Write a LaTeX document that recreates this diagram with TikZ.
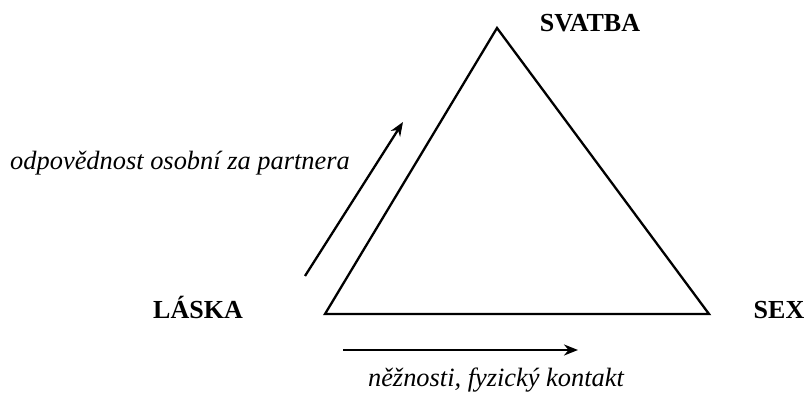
\documentclass[tikz,border=0pt]{standalone}
\usepackage{fontspec}
\setmainfont{Liberation Serif}
\usepackage{tikz}
\usetikzlibrary{arrows.meta}

\begin{document}
\begin{tikzpicture}[x=0.5pt,y=-0.5pt,
		vertexlabel/.style={font=\fontsize{13}{15}\selectfont\bfseries, anchor=base, inner sep=0pt},
		sidelabel/.style={font=\fontsize{13.2}{15}\selectfont\itshape, anchor=base, inner sep=0pt},
		side/.style={line width=1.15pt},
		flow/.style={line width=1.15pt, -{Stealth[length=7pt,width=5.5pt]}}
		]
		\useasboundingbox (0,0) rectangle (805,394);
		
		\coordinate (T) at (497,28);
		\coordinate (L) at (325,314);
		\coordinate (R) at (709,314);
		\draw[side] (L) -- (T) -- (R) -- cycle;
		
		\node[vertexlabel](svatba) at (590,32){SVATBA};
		\node[vertexlabel](laska) at (198,319){LÁSKA};
		\node[vertexlabel](sex) at (779,319){SEX};
		
		\coordinate (A0) at (305,276);
		\coordinate (A1) at (403,122);
		\draw[flow] (A0) -- (A1);
		\node[sidelabel](odpov) at (180,170){odpovědnost osobní za partnera};
		
		\coordinate (B0) at (343,350);
		\coordinate (B1) at (578,350);
		\draw[flow] (B0) -- (B1);
		\node[sidelabel](nezn) at (496,387){něžnosti, fyzický kontakt};
	\end{tikzpicture}
\end{document}
